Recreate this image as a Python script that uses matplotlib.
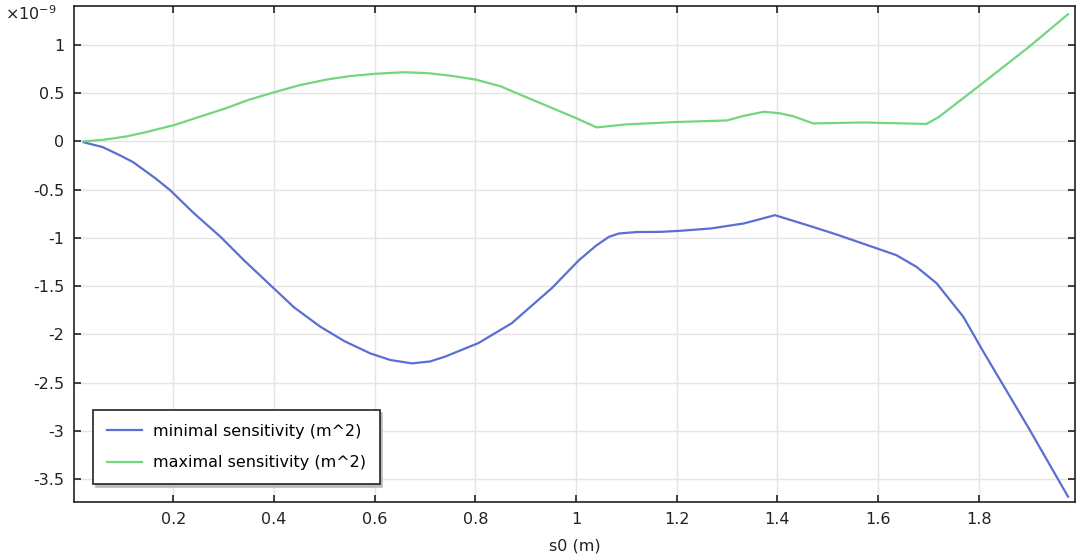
import matplotlib.pyplot as plt

# sensitivity vs s0, values in units of 1e-9 m^2
s0_min = [0.022, 0.06, 0.094, 0.12, 0.14, 0.165, 0.194, 0.24, 0.294, 0.34, 0.393, 0.44,
          0.492, 0.54, 0.591, 0.631, 0.674, 0.71, 0.74, 0.806, 0.872, 0.952,
          1.006, 1.04, 1.065, 1.085, 1.12, 1.167, 1.204, 1.267, 1.333, 1.37,
          1.395, 1.47, 1.52, 1.569, 1.636, 1.676, 1.716, 1.769, 1.809, 1.9, 1.977]
sens_min = [-0.01, -0.06, -0.145, -0.215, -0.29, -0.385, -0.507, -0.74, -0.99, -1.23, -1.49, -1.72,
            -1.92, -2.07, -2.196, -2.265, -2.30, -2.28, -2.23, -2.09, -1.885, -1.52,
            -1.23, -1.08, -0.99, -0.955, -0.94, -0.938, -0.928, -0.903, -0.851, -0.80,
            -0.765, -0.886, -0.97, -1.058, -1.179, -1.30, -1.47, -1.817, -2.18, -2.98, -3.68]

s0_max = [0.022, 0.06, 0.107, 0.15, 0.203, 0.25, 0.306, 0.35, 0.402, 0.45,
          0.505, 0.55, 0.603, 0.657, 0.703, 0.75, 0.80, 0.85, 0.889, 0.95,
          1.0, 1.041, 1.1, 1.2, 1.30, 1.33, 1.373, 1.405, 1.431, 1.471,
          1.57, 1.696, 1.72, 1.802, 1.9, 1.977]
sens_max = [0.0, 0.015, 0.05, 0.10, 0.17, 0.25, 0.345, 0.43, 0.51, 0.58,
            0.64, 0.675, 0.70, 0.715, 0.707, 0.68, 0.64, 0.57, 0.483, 0.35,
            0.24, 0.144, 0.175, 0.20, 0.216, 0.26, 0.306, 0.29, 0.26, 0.185,
            0.195, 0.18, 0.25, 0.58, 0.98, 1.316]

xticks = [0.2, 0.4, 0.6, 0.8, 1.0, 1.2, 1.4, 1.6, 1.8]
xtick_labels = ["0.2", "0.4", "0.6", "0.8", "1", "1.2", "1.4", "1.6", "1.8"]
yticks = [1, 0.5, 0, -0.5, -1, -1.5, -2, -2.5, -3, -3.5]
ytick_labels = ["1", "0.5", "0", "-0.5", "-1", "-1.5", "-2", "-2.5", "-3", "-3.5"]

plt.rcParams['font.family'] = 'DejaVu Sans'
plt.rcParams['font.size'] = 11.5

fig = plt.figure(figsize=(10.81, 5.57), dpi=100)
ax = fig.add_axes([0.0685, 0.098, 0.926, 0.891])

ax.plot(s0_min, sens_min, color="#5b6fd3", lw=1.6, label="minimal sensitivity (m^2)")
ax.plot(s0_max, sens_max, color="#72d67f", lw=1.6, label="maximal sensitivity (m^2)")

ax.set_xlim(0.003, 1.991)
ax.set_ylim(-3.74, 1.40)
ax.set_xticks(xticks)
ax.set_xticklabels(xtick_labels)
ax.set_yticks(yticks)
ax.set_yticklabels(ytick_labels)
ax.tick_params(direction='in', length=5, width=1.2, top=True, right=True,
               colors='#222222', labelcolor='#222222', pad=7)
for sp in ax.spines.values():
    sp.set_linewidth(1.2)
    sp.set_color('#222222')
ax.grid(True, color='#e4e4e4', lw=1.0)
ax.set_axisbelow(True)

ax.set_xlabel("s0 (m)", labelpad=8, color='#222222')
fig.text(0.005, 0.975, r"$\times$10$^{\mathrm{-9}}$", fontsize=11.5, color='#222222', va='center')

leg = ax.legend(loc='lower left', bbox_to_anchor=(0.019, 0.037), borderaxespad=0,
                fancybox=False, shadow={'color': '#bbbbbb', 'alpha': 1.0},
                framealpha=1, edgecolor='#222222', handlelength=2.2,
                handletextpad=0.7, borderpad=0.85, labelspacing=1.05)
leg.get_frame().set_linewidth(1.2)

fig.savefig("out.png", dpi=100)
